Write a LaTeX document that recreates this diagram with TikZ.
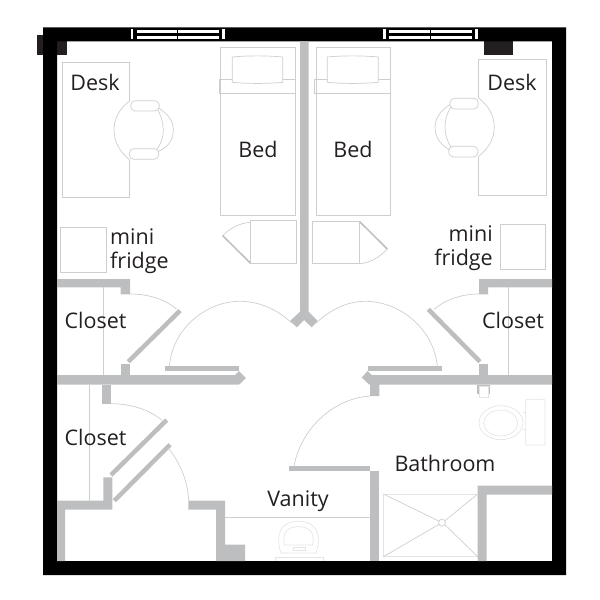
\documentclass[tikz,border=0pt]{standalone}
\usepackage{fontspec}
\setmainfont{Open Sans}

\tikzset{
    thinline/.style={draw=linegray, line width=0.7pt},
    faintline/.style={draw=faintgray, line width=0.7pt},
    doorleaf/.style={draw=wallgray, line width=4.5pt},
    label/.style={text=inkblack, inner sep=0pt, anchor=base, font=\fontsize{21.5}{25}\selectfont}
}

\begin{document}
\begin{tikzpicture}[x=1pt, y=-1pt]
    % Define colors
    \definecolor{wallgray}{RGB}{188, 190, 192}
    \definecolor{linegray}{RGB}{205, 206, 208}
    \definecolor{faintgray}{RGB}{228, 229, 230}
    \definecolor{inkblack}{RGB}{35, 31, 32}

    \useasboundingbox (0, 0) rectangle (600, 600);

    % Outer wall and piers
    \fill[inkblack] (37.3, 35) rectangle (66.7, 55);
    \fill[inkblack] (484, 41) rectangle (513.3, 55);
    \fill[black, even odd rule] (43, 27.3) rectangle (566, 575) (57, 41.3) rectangle (552, 561);

    % Windows
    \foreach \xa/\xb/\xc/\xd/\xe/\xf in {130.5/133.3/136.7/177.7/218.7/222.3, 383.3/386/389.3/430/471.7/475}{
        \fill[white] (\xa, 29) rectangle (\xb, 39.3);
        \fill[white] (\xf, 29) rectangle (\xf+2.8, 39.3);
        \fill[white] (\xc, 29.5) rectangle (\xe, 33.3);
        \fill[white] (\xc, 35.7) rectangle (\xe, 39.3);
        \draw[black, line width=0.6pt] (\xd, 29.5) -- (\xd, 39.3);
    }

    % Interior walls
    \fill[wallgray] (300, 41.3) -- (308.7, 41.3) -- (308.7, 311.7) -- (317.7, 321) -- (311.7, 327.3)
        -- (304, 320) -- (296.7, 327.3) -- (290, 321) -- (300, 311.7) -- cycle;
    \fill[wallgray] (57, 375) -- (235, 375) -- (239, 371) -- (246, 378) -- (239, 384.7) -- (57, 384.7) -- cycle;
    \fill[wallgray] (552, 375) -- (371.7, 375) -- (367.7, 371) -- (361.7, 377.5) -- (369.3, 384.7) -- (370, 384.7)
        -- (370, 396) -- (379.3, 396) -- (379.3, 384.7) -- (552, 384.7) -- cycle;
    \fill[wallgray] (57, 279) -- (130, 279) -- (130, 294.3) -- (120.7, 294.3) -- (120.7, 287.3) -- (57, 287.3) -- cycle;
    \fill[wallgray] (120.7, 363.7) rectangle (130, 375);
    \fill[wallgray] (552, 279) -- (479, 279) -- (479, 294.3) -- (488, 294.3) -- (488, 287.3) -- (552, 287.3) -- cycle;
    \fill[wallgray] (479, 363.7) rectangle (488, 375);
    \fill[wallgray] (101.7, 384.7) rectangle (110.7, 404.3);
    \fill[wallgray] (57, 561) -- (57, 500.7) -- (103.3, 500.7) -- (103.3, 477.3) -- (112.3, 477.3) -- (112.3, 509.7)
        -- (65, 509.7) -- (65, 561) -- cycle;
    \fill[wallgray] (188.3, 500.7) -- (225, 500.7) -- (225, 544.7) -- (245, 544.7) -- (245, 561) -- (216, 561)
        -- (216, 509.7) -- (188.3, 509.7) -- cycle;
    \fill[wallgray] (370.3, 471) rectangle (379.3, 561);
    \fill[wallgray] (552, 485.7) -- (477.7, 485.7) -- (477.7, 561) -- (486.7, 561) -- (486.7, 494.7) -- (552, 494.7) -- cycle;

    % Door leaves
    \fill[wallgray] (165, 366.3) rectangle (239, 370.7);
    \fill[wallgray] (367.7, 366.3) rectangle (442, 370.7);
    \fill[wallgray] (289, 466.3) rectangle (370, 471);
    \draw[doorleaf] (128.3, 361.7) -- (180, 310.7);
    \draw[doorleaf] (480, 361.7) -- (428.3, 309.3);
    \draw[doorleaf] (111, 475) -- (166.7, 420);
    \draw[doorleaf] (114.3, 500.7) -- (170, 444.7);

    % Door swings
    \draw[thinline] (169.5, 366) .. controls (172, 330) and (205, 301.3) .. (240, 301.3)
        .. controls (260, 301.3) and (278, 310) .. (291.7, 323);
    \draw[thinline] (437.3, 366) .. controls (434, 330) and (401, 301.3) .. (365, 301.3)
        .. controls (347, 301.3) and (330, 310) .. (316, 323);
    \draw[thinline] (130, 294) .. controls (148, 294) and (165, 299) .. (176.7, 309.3);
    \draw[thinline] (479, 294) .. controls (461, 294) and (445, 300) .. (434, 309.3);
    \draw[thinline] (110.7, 403.7) .. controls (130, 403.7) and (148, 409) .. (161.7, 420);
    \draw[thinline] (168.3, 448.3) .. controls (180, 462) and (188, 482) .. (188.7, 500.7);
    \draw[thinline] (370, 396) .. controls (330, 399) and (300, 432) .. (294, 466.3);

    % Closet rails and vanity edge
    \draw[thinline] (103, 287.3) -- (103, 375);
    \draw[thinline] (508, 287.3) -- (508, 375);
    \draw[thinline] (89, 384.7) -- (89, 500.7);
    \draw[thinline] (225, 517.3) -- (370.3, 517.3);

    % Desks
    \draw[thinline] (129.7, 101) -- (129.7, 62) -- (62.3, 62) -- (62.3, 197.3) -- (129.7, 197.3) -- (129.7, 160);
    \draw[thinline] (478.3, 97.7) -- (478.3, 59.7) -- (546.7, 59.7) -- (546.7, 195.3) -- (478.3, 195.3) -- (478.3, 156.7);

    % Left chair
    \draw[thinline] (129.7, 101) .. controls (120, 108) and (114, 118) .. (114, 130) .. controls (114, 142) and (120, 152) .. (129.7, 160);
    \draw[thinline] (157, 107) .. controls (167, 113) and (173.3, 120) .. (173.3, 130) .. controls (173.3, 141) and (167, 148) .. (157, 152);
    \draw[thinline] (158, 110) .. controls (161, 116) and (163.3, 123) .. (163.3, 130) .. controls (163.3, 137) and (161, 144) .. (157, 149);
    \draw[thinline, fill=white, rounded corners=4.5pt] (130.7, 100.7) rectangle (159.3, 111);
    \draw[thinline, fill=white, rounded corners=4.5pt] (129.3, 148.7) rectangle (158.7, 159.3);

    % Right chair
    \draw[thinline] (478.3, 97.7) .. controls (488, 105) and (494.3, 115) .. (494.3, 127) .. controls (494.3, 139) and (488, 149) .. (478.3, 156.7);
    \draw[thinline] (451, 104) .. controls (441, 110) and (435, 118) .. (435, 127) .. controls (435, 138) and (441, 145) .. (450, 150);
    \draw[thinline] (451, 107) .. controls (447, 113) and (445, 120) .. (445, 127) .. controls (445, 134) and (447, 141) .. (451, 147);
    \draw[thinline, fill=white, rounded corners=4.5pt] (450, 98.3) rectangle (478.3, 109);
    \draw[thinline, fill=white, rounded corners=4.5pt] (448.7, 146.3) rectangle (478, 157);

    % Beds
    \draw[thinline] (220.7, 47.7) rectangle (295.7, 215.3);
    \draw[thinline] (219.3, 79.3) rectangle (295.7, 93.7);
    \draw[thinline, fill=white] (232.3, 57) .. controls (248, 55.5) and (267, 55.5) .. (282.7, 57) -- (282.7, 82.3)
        .. controls (267, 83.8) and (248, 83.8) .. (232.3, 82.3) -- cycle;
    \draw[thinline] (316.3, 47.7) rectangle (390.7, 215.3);
    \draw[thinline] (314.3, 79.3) rectangle (390.7, 93.7);
    \draw[thinline, fill=white] (327.3, 57) .. controls (343, 55.5) and (362, 55.5) .. (378.3, 57) -- (378.3, 82.3)
        .. controls (362, 83.8) and (343, 83.8) .. (327.3, 82.3) -- cycle;

    % Night stands
    \draw[thinline] (250.3, 220.7) rectangle (296.7, 263);
    \draw[thinline] (222.7, 235.7) .. controls (230, 228) and (240, 223) .. (250.3, 222.3);
    \draw[wallgray, line width=1.5pt] (250.3, 263) -- (222.7, 235.7);
    \draw[thinline] (312.7, 221.7) rectangle (359.7, 263.7);
    \draw[thinline] (387.3, 249) .. controls (380, 257) and (370, 263) .. (359.7, 263.7);
    \draw[wallgray, line width=1.5pt] (359.7, 221.7) -- (387.3, 249);

    % Fridges
    \draw[thinline] (60.3, 227) rectangle (106, 272.7);
    \draw[thinline] (500.3, 224) rectangle (545.7, 269.3);

    % Toilet
    \fill[wallgray] (476.7, 384.7) rectangle (490, 394);
    \draw[faintline, fill=white] (479, 386.7) rectangle (488, 397.3);
    \draw[faintline] (501, 422.7) ellipse (22 and 17);
    \draw[faintline] (500.7, 423) ellipse (17 and 13);
    \draw[faintline] (522.5, 412) -- (525.7, 412);
    \draw[faintline] (522.5, 429) -- (525.7, 429);
    \draw[faintline, rounded corners=1pt] (525.7, 399.3) rectangle (545, 445);

    % Shower
    \draw[faintline] (383.3, 494) rectangle (477.7, 556.7);
    \draw[thinline] (383.3, 494) -- (438.8, 521);
    \draw[thinline] (383.3, 556.7) -- (438.8, 524.5);
    \draw[thinline] (477.7, 494) -- (445.2, 520.5);
    \draw[thinline] (477.7, 556.7) -- (445.2, 525);
    \draw[thinline] (442, 522.7) circle (3.5);

    % Sink
    \draw[faintline] (281, 553) .. controls (275, 535) and (280, 521.3) .. (298.5, 521.3)
        .. controls (317, 521.3) and (322, 535) .. (316, 553) -- cycle;
    \draw[faintline] (284.3, 545) .. controls (282, 533) and (287, 526.7) .. (298.5, 526.7)
        .. controls (310, 526.7) and (315, 533) .. (312.7, 545) -- cycle;
    \draw[faintline] (293.3, 547) rectangle (305.3, 550.7);
    \draw[faintline] (275, 561) -- (275, 557.3) -- (323.3, 557.3) -- (323.3, 561);

    % Add text
    \node[label] (desk_left) at (95, 90) {Desk};
    \node[label] (desk_right) at (512, 90) {Desk};
    \node[label] (bed_left) at (258, 157.7) {Bed};
    \node[label] (bed_right) at (353, 157.7) {Bed};
    \node[label, anchor=base west] (mini_left) at (110, 244.3) {mini};
    \node[label, anchor=base west] (fridge_left) at (110, 268.3) {fridge};
    \node[label, anchor=base east] (mini_right) at (493, 241.7) {mini};
    \node[label, anchor=base east] (fridge_right) at (493, 265) {fridge};
    \node[label] (closet_upper) at (95.5, 328.3) {Closet};
    \node[label] (closet_right) at (513, 328.3) {Closet};
    \node[label] (closet_lower) at (95.5, 445) {Closet};
    \node[label] (bathroom) at (445, 471) {Bathroom};
    \node[label] (vanity) at (298, 506.7) {Vanity};
\end{tikzpicture}
\end{document}
